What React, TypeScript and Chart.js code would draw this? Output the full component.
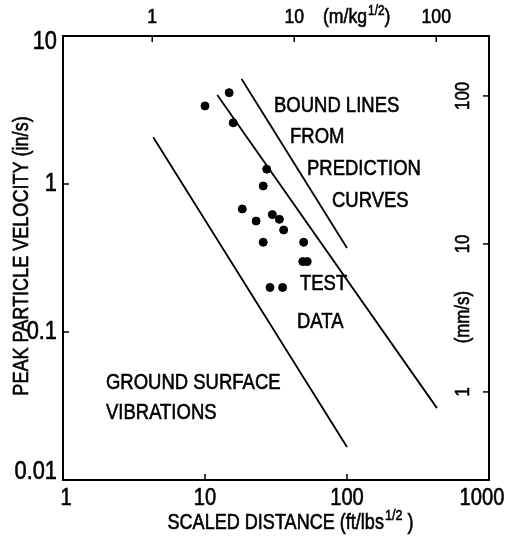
import React, { useEffect, useRef } from 'react';
import { Chart, registerables } from 'chart.js';

Chart.register(...registerables);

// Test data: scaled distance (ft/lb^1/2) vs peak particle velocity (in/s)
const testDistance = [10, 14.8, 15.8, 27.2, 25.7, 18.3, 22.9, 29.8, 33.4, 35.8, 25.7, 49.5, 48.8, 52.5, 28.7, 35.2];
const testVelocity = [3.37, 4.14, 2.59, 1.26, 0.97, 0.678, 0.562, 0.621, 0.577, 0.489, 0.404, 0.404, 0.299, 0.299, 0.2, 0.2];

// Bound lines from prediction curves (end points)
const lowerBoundX = [4.32, 100];
const lowerBoundY = [2.07, 0.0167];
const middleBoundX = [12.2, 430];
const middleBoundY = [3.99, 0.0306];
const upperBoundX = [18.1, 100];
const upperBoundY = [5.12, 0.37];

// Axis ticks
const xTicks = [1, 10, 100, 1000];
const yTicks = [0.01, 0.1, 1, 10];
const topTicks = [1, 10, 100];
const rightTicks = [1, 10, 100];
const FT_PER_M = 4.25; // top-axis factor as printed
const MMS_PER_INS = 25.4;

const FONT = "'Liberation Sans', Arial, sans-serif";
const NARROW = 0.84;

type Align = 'left' | 'center' | 'right';

function txt(
  ctx: CanvasRenderingContext2D,
  s: string,
  x: number,
  y: number,
  size: number,
  align: Align = 'left',
  baseline: CanvasTextBaseline = 'alphabetic',
  rot = 0
) {
  ctx.save();
  ctx.translate(x, y);
  if (rot) ctx.rotate(rot);
  ctx.scale(NARROW, 1);
  ctx.font = `${size}px ${FONT}`;
  ctx.textAlign = align;
  ctx.textBaseline = baseline;
  ctx.lineWidth = 0.6;
  ctx.strokeStyle = '#000';
  ctx.fillText(s, 0, 0);
  ctx.strokeText(s, 0, 0);
  ctx.restore();
}

function measure(ctx: CanvasRenderingContext2D, s: string, size: number) {
  ctx.font = `${size}px ${FONT}`;
  return ctx.measureText(s).width * NARROW;
}

function drawSup(
  ctx: CanvasRenderingContext2D,
  pre: string,
  sup: string,
  post: string,
  x: number,
  y: number,
  size: number,
  align: 'left' | 'center'
) {
  const supSize = Math.round(size * 0.68);
  const w1 = measure(ctx, pre, size);
  const w2 = measure(ctx, sup, supSize);
  const w3 = measure(ctx, post, size);
  const total = w1 + w2 + w3;
  const sx = align === 'center' ? x - total / 2 : x;
  txt(ctx, pre, sx, y, size);
  txt(ctx, sup, sx + w1 + 1, y - size * 0.4, supSize);
  txt(ctx, post, sx + w1 + w2 + 1, y, size);
}

const overlay = {
  id: 'overlay',
  afterDraw(chart: any) {
    const { ctx, chartArea: a, scales } = chart;
    ctx.save();
    ctx.strokeStyle = '#000';
    ctx.fillStyle = '#000';
    ctx.lineWidth = 2;
    ctx.strokeRect(a.left, a.top, a.right - a.left, a.bottom - a.top);

    const T = 6;
    ctx.lineWidth = 1.5;
    const seg = (x1: number, y1: number, x2: number, y2: number) => {
      ctx.beginPath();
      ctx.moveTo(x1, y1);
      ctx.lineTo(x2, y2);
      ctx.stroke();
    };
    xTicks.forEach((v) => {
      const x = scales.x.getPixelForValue(v);
      seg(x, a.bottom, x, a.bottom - T);
    });
    yTicks.forEach((v) => {
      const y = scales.y.getPixelForValue(v);
      seg(a.left, y, a.left + T, y);
    });
    topTicks.forEach((v) => {
      const x = scales.x2.getPixelForValue(v);
      seg(x, a.top, x, a.top + T);
    });
    rightTicks.forEach((v) => {
      const y = scales.y2.getPixelForValue(v);
      seg(a.right, y, a.right - T, y);
    });

    // Bottom axis labels
    xTicks.forEach((v) => {
      const x = Math.min(Math.max(scales.x.getPixelForValue(v), a.left + 3), a.right - 7);
      txt(ctx, String(v), x, a.bottom + 25, 24, 'center');
    });
    // Left axis labels
    yTicks.forEach((v) => {
      const y = Math.min(Math.max(scales.y.getPixelForValue(v), a.top + 6), a.bottom - 8);
      txt(ctx, String(v), a.left - 6, y, 26, 'right', 'middle');
    });

    // Top axis labels
    topTicks.forEach((v) => {
      txt(ctx, String(v), scales.x2.getPixelForValue(v), 23, 21, 'center');
    });
    drawSup(ctx, '(m/kg', '1/2', ')', 323, 23, 21, 'left');

    // Right axis labels (rotated)
    const rx = a.right - 26;
    rightTicks.forEach((v) => {
      txt(ctx, String(v), rx, scales.y2.getPixelForValue(v), 20, 'center', 'middle', -Math.PI / 2);
    });
    txt(ctx, '(mm/s)', rx, scales.y2.getPixelForValue(3.2), 20, 'center', 'middle', -Math.PI / 2);

    // Annotations
    const fs = 22;
    txt(ctx, 'BOUND LINES', 274, 112, fs);
    txt(ctx, 'FROM', 290, 143, fs);
    txt(ctx, 'PREDICTION', 307, 175, fs);
    txt(ctx, 'CURVES', 332, 207, fs);
    txt(ctx, 'TEST', 300, 290, fs);
    txt(ctx, 'DATA', 297, 328, fs);
    txt(ctx, 'GROUND SURFACE', 106, 389, fs);
    txt(ctx, 'VIBRATIONS', 106, 419, fs);

    // Axis titles
    drawSup(ctx, 'SCALED DISTANCE (ft/lbs', '1/2', ' )', 290, 529, 21.5, 'center');
    txt(ctx, 'PEAK PARTICLE VELOCITY (in/s)', 28, 256, 21.5, 'center', 'alphabetic', -Math.PI / 2);

    ctx.restore();
  },
};

function pairs(xs: number[], ys: number[]) {
  return xs.map((x, i) => ({ x, y: ys[i] }));
}

export default function App() {
  const ref = useRef<HTMLCanvasElement>(null);
  useEffect(() => {
    if (!ref.current) return;
    const lineStyle = {
      type: 'line' as const,
      showLine: true,
      borderColor: '#000',
      borderWidth: 1.8,
      pointRadius: 0,
      fill: false,
    };
    const chart = new Chart(ref.current, {
      type: 'scatter',
      data: {
        datasets: [
          {
            label: 'Test data',
            data: pairs(testDistance, testVelocity),
            backgroundColor: '#000',
            borderColor: '#000',
            pointRadius: 4,
          },
          { ...lineStyle, label: 'Lower bound', data: pairs(lowerBoundX, lowerBoundY) },
          { ...lineStyle, label: 'Middle bound', data: pairs(middleBoundX, middleBoundY) },
          { ...lineStyle, label: 'Upper bound', data: pairs(upperBoundX, upperBoundY) },
        ] as any,
      },
      options: {
        animation: false,
        responsive: false,
        layout: { padding: { top: 36, right: 17, left: 63, bottom: 58 } },
        plugins: { legend: { display: false }, tooltip: { enabled: false } },
        scales: {
          x: { type: 'logarithmic', position: 'bottom', display: false, min: 1, max: 1000 },
          y: { type: 'logarithmic', position: 'left', display: false, min: 0.01, max: 10 },
          x2: {
            type: 'logarithmic',
            position: 'top',
            display: false,
            min: 1 / FT_PER_M,
            max: 1000 / FT_PER_M,
          },
          y2: {
            type: 'logarithmic',
            position: 'right',
            display: false,
            min: 0.01 * MMS_PER_INS,
            max: 10 * MMS_PER_INS,
          },
        },
      } as any,
      plugins: [overlay],
    });
    return () => chart.destroy();
  }, []);
  return (
    <div style={{ position: 'fixed', left: 0, top: 0, width: 506, height: 538, background: '#fff' }}>
      <canvas ref={ref} width={506} height={538} />
    </div>
  );
}
